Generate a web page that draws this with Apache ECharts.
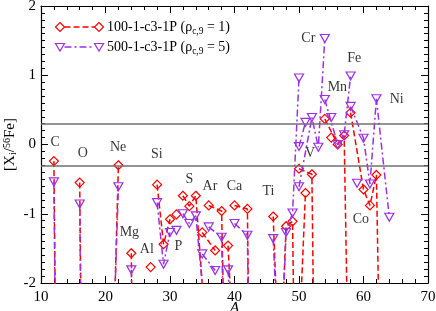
<!DOCTYPE html>
<html><head><meta charset="utf-8">
<script src="https://cdn.jsdelivr.net/npm/echarts@6/dist/echarts.min.js"></script>
<style>html,body{margin:0;padding:0;background:#fff}#c{width:436px;height:311px}</style>
</head><body><div id="c"></div>
<script>
// ---- data ----
const groupNames = ['C','O','Ne','Mg','Al','Si','P','S','Cl','Ar','K','Ca','Ti','V','Cr','Mn','Fe','Co','Ni'];
const groupMass = [[12,13],[16,17,18],[20,21,22],[24,25,26],[27],[28,29,30],[31],[32,33,34,36],[35,37],[36,38,40],[39,40,41],[40,42,43,44,46,48],[46,47,48,49,50],[50,51],[50,52,53,54],[55],[54,56,57,58],[59],[58,60,61,62,64]];
// [X_i/56Fe] for model 100-1-c3-1P (rho_c,9 = 1)
const model100 = [[-0.24,-10],[-0.55,-10,-9],[-6,-3.7,-0.30],[-1.57,-9,-9],[-1.77],[-0.58,-1.44,-1.08],[-1.01],[-0.74,-0.89,-0.74,-3.3],[-1.27,-1.53],[-0.88,-0.96,-10],[-1.46,-3.3,-5],[-0.88,-0.93,-9,-9,-9,-9],[-1.04,-3.5,-1.18,-1.11,-8],[-2.9,-0.70],[-0.35,-0.43,-8.3,-9],[0.10],[0.37,0.0,0.13,-5.2],[-6],[0.46,-0.65,-0.88,-0.44,-11]];
// [X_i/56Fe] for model 500-1-c3-1P (rho_c,9 = 5)
const model500 = [[-0.54,-10],[-0.86,-10,-9],[-6,-3.5,-0.61],[-1.81,-9,-9],[-6],[-0.84,-1.73,-1.27],[-1.24],[-1.0,-1.14,-1.03,-3.0],[-1.58,-1.82],[-1.19,-1.34,-10],[-1.81,-3.5,-5],[-1.14,-1.31,-9,-9,-9,-9],[-1.36,-3.5,-1.27,-0.99,0.96],[-0.03,0.32],[-0.61,0.39,-0.04,1.53],[0.39],[0.65,0.0,0.14,0.99],[-0.56],[0.55,0.09,-0.57,0.66,-1.05]];
const seriesNames = ['100-1-c3-1P', '500-1-c3-1P'];
const rhoValues = ['1', '5'];
const refLines = [0.301, -0.301];
const labelNames = ['C','O','Ne','Si','Mg','Al','P','S','Ar','Ca','Ti','V','Cr','Mn','Fe','Ni','Co'];
const labelA = [12.2,16.5,21.95,27.95,23.7,26.4,31.3,33.0,36.2,40.0,45.25,51.7,51.45,55.95,58.55,65.15,59.6];
const labelV = [0.03,-0.13,-0.04,-0.14,-1.27,-1.52,-1.47,-0.50,-0.61,-0.61,-0.67,-0.13,1.53,0.83,1.24,0.65,-1.08];

// ---- styling ----
const FONT = 'Liberation Serif';
const RED = '#ff0000', VIO = '#9b30e8';
const chart = echarts.init(document.getElementById('c'), null, {renderer: 'canvas'});

function buildSeries(vals, cfg, withMark) {
  return groupMass.map((masses, g) => {
    const s = {
      type: 'line',
      name: cfg.name + '_' + groupNames[g],
      data: masses.map((a, i) => [a, vals[g][i]]),
      symbol: cfg.symbol,
      symbolSize: cfg.symbolSize,
      symbolRotate: cfg.rotate,
      showAllSymbol: true,
      clip: true,
      animation: false,
      silent: true,
      z: cfg.z,
      lineStyle: {color: cfg.color, width: 1.5, type: cfg.dash},
      itemStyle: {color: 'rgba(255,255,255,0)', borderColor: cfg.color, borderWidth: 1.2}
    };
    if (withMark && g === 0) {
      s.markLine = {
        silent: true, symbol: 'none', animation: false,
        label: {show: false},
        lineStyle: {color: '#707070', width: 1.5, type: 'solid'},
        data: refLines.map(v => ({yAxis: v}))
      };
    }
    return s;
  });
}

const redCfg = {name: seriesNames[0], symbol: 'diamond', symbolSize: 9, rotate: 0, color: RED, dash: [6, 3], z: 3};
const vioCfg = {name: seriesNames[1], symbol: 'triangle', symbolSize: [9, 8], rotate: 180, color: VIO, dash: [7, 3, 2, 3], z: 4};

const series = [].concat(
  buildSeries(model100, redCfg, true),
  buildSeries(model500, vioCfg, false),
  [{
    type: 'scatter', name: 'labels', clip: false, silent: true, animation: false,
    symbolSize: 1, itemStyle: {color: 'rgba(0,0,0,0)'},
    data: labelNames.map((n, i) => ({value: [labelA[i], labelV[i]], name: n})),
    label: {show: true, position: 'inside', formatter: p => p.name, color: '#000', fontFamily: FONT, fontSize: 14},
    z: 6
  }]
);

const axisCommon = {
  axisLine: {show: true, onZero: false, lineStyle: {color: '#000', width: 1.2}},
  axisTick: {show: true, inside: true, length: 7, lineStyle: {color: '#000', width: 1}},
  splitLine: {show: false},
  nameMoveOverlap: false
};

const option = {
  backgroundColor: '#fff',
  animation: false,
  grid: {left: 41, right: 8, top: 6, bottom: 28, outerBoundsMode: 'none', containLabel: false},
  xAxis: [
    Object.assign({}, axisCommon, {
      type: 'value', min: 10, max: 70, interval: 10, position: 'bottom',
      minorTick: {show: true, splitNumber: 5, length: 4, lineStyle: {color: '#000', width: 1}},
      axisLabel: {color: '#000', fontFamily: FONT, fontSize: 15, margin: 7},
      name: 'A', nameLocation: 'middle', nameGap: 18,
      nameTextStyle: {color: '#000', fontFamily: FONT, fontSize: 15, fontStyle: 'italic'}
    }),
    Object.assign({}, axisCommon, {
      type: 'value', min: 10, max: 70, interval: 10, position: 'top',
      minorTick: {show: true, splitNumber: 5, length: 4, lineStyle: {color: '#000', width: 1}},
      axisLabel: {show: false}
    })
  ],
  yAxis: [
    Object.assign({}, axisCommon, {
      type: 'value', min: -2, max: 2, interval: 1, position: 'left',
      minorTick: {show: true, splitNumber: 10, length: 4, lineStyle: {color: '#000', width: 1}},
      axisLabel: {color: '#000', fontFamily: FONT, fontSize: 15, margin: 5},
      name: '{b|[X}{sub|i}{b|/}{sup|56}{b|Fe]}', nameLocation: 'middle', nameGap: 23,
      nameTextStyle: {
        color: '#000', fontFamily: FONT, fontSize: 15,
        rich: {
          b: {fontFamily: FONT, fontSize: 15, color: '#000', lineHeight: 16, verticalAlign: 'middle'},
          sub: {fontFamily: FONT, fontSize: 10, color: '#000', lineHeight: 8, verticalAlign: 'bottom'},
          sup: {fontFamily: FONT, fontSize: 10, color: '#000', lineHeight: 8, verticalAlign: 'top'}
        }
      }
    }),
    Object.assign({}, axisCommon, {
      type: 'value', min: -2, max: 2, interval: 1, position: 'right',
      minorTick: {show: true, splitNumber: 10, length: 4, lineStyle: {color: '#000', width: 1}},
      axisLabel: {show: false}
    })
  ],
  series: series,
  graphic: [
    {type: 'line', shape: {x1: 64.5, y1: 27, x2: 94.5, y2: 27}, style: {stroke: RED, lineWidth: 1.5, lineDash: [6, 3]}, z: 10},
    {type: 'polygon', shape: {points: [[60, 22.5], [64.5, 27], [60, 31.5], [55.5, 27]]}, style: {fill: 'none', stroke: RED, lineWidth: 1.2}, z: 10},
    {type: 'polygon', shape: {points: [[99, 22.5], [103.5, 27], [99, 31.5], [94.5, 27]]}, style: {fill: 'none', stroke: RED, lineWidth: 1.2}, z: 10},
    {type: 'text', x: 107, y: 27, z: 10, style: {
      text: '{t|' + seriesNames[0] + ' (ρ}{s|c,9}{t| = ' + rhoValues[0] + ')}',
      verticalAlign: 'middle', fill: '#000', fontFamily: FONT, fontSize: 14,
      rich: {t: {fontFamily: FONT, fontSize: 14, fill: '#000', lineHeight: 18, verticalAlign: 'middle'},
             s: {fontFamily: FONT, fontSize: 9.5, fill: '#000', lineHeight: 9, verticalAlign: 'bottom'}}
    }},
    {type: 'line', shape: {x1: 64.5, y1: 47, x2: 94.5, y2: 47}, style: {stroke: VIO, lineWidth: 1.5, lineDash: [7, 3, 2, 3]}, z: 10},
    {type: 'polygon', shape: {points: [[55.5, 43.5], [64.5, 43.5], [60, 51]]}, style: {fill: 'none', stroke: VIO, lineWidth: 1.2}, z: 10},
    {type: 'polygon', shape: {points: [[94.5, 43.5], [103.5, 43.5], [99, 51]]}, style: {fill: 'none', stroke: VIO, lineWidth: 1.2}, z: 10},
    {type: 'text', x: 107, y: 47, z: 10, style: {
      text: '{t|' + seriesNames[1] + ' (ρ}{s|c,9}{t| = ' + rhoValues[1] + ')}',
      verticalAlign: 'middle', fill: '#000', fontFamily: FONT, fontSize: 14,
      rich: {t: {fontFamily: FONT, fontSize: 14, fill: '#000', lineHeight: 18, verticalAlign: 'middle'},
             s: {fontFamily: FONT, fontSize: 9.5, fill: '#000', lineHeight: 9, verticalAlign: 'bottom'}}
    }}
  ]
};
chart.setOption(option);
</script>
</body></html>
